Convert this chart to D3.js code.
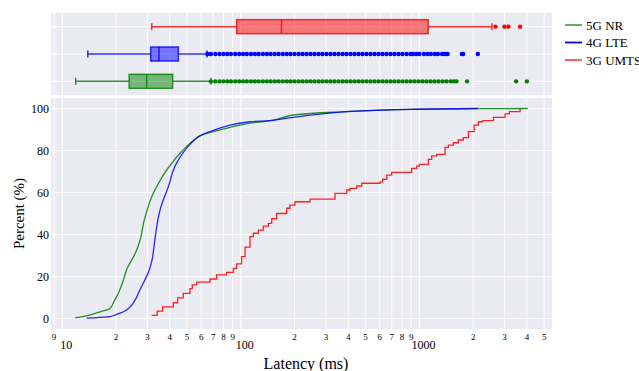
<!DOCTYPE html>
<html>
<head>
<meta charset="utf-8">
<script src="https://cdn.jsdelivr.net/npm/d3@7"></script>
<style>
  body { margin: 0; background: #fff; }
</style>
</head>
<body>
<div id="chart"></div>
<script>
// latency CDF per radio technology + box plots on top
const techs = ["5G NR", "4G LTE", "3G UMTS"];
const techColors = ["green", "blue", "red"];
const legendColors = ["#4caa4c", "#0000ff", "#ff4d4d"];

// box stats: [low whisker, q1, median, q3, high whisker] in ms
const box5G = [11.9, 23.7, 29.7, 41.5, 68.1];
const box4G = [13.9, 31.3, 34.8, 44.7, 64.7];
const box3G = [31.7, 94.8, 169, 1120, 2550];

const outliers5G = [68, 72, 76, 80, 84, 88, 93, 98, 103, 108, 114, 120, 126, 133, 140, 147, 155, 163, 172, 181,
  190, 200, 211, 222, 234, 246, 259, 273, 287, 302, 318, 335, 353, 372, 391, 412, 434, 457, 481, 506,
  533, 561, 591, 622, 655, 690, 726, 765, 805, 848, 893, 940, 990, 1042, 1097, 1155, 1216, 1280, 1350,
  1420, 1500, 1560, 1613, 1850, 3480, 4000];
const outliers4G = [65, 68, 72, 76, 80, 84, 88, 93, 98, 103, 108, 114, 120, 126, 133, 140, 147, 155, 163, 172,
  181, 190, 200, 211, 222, 234, 246, 259, 273, 287, 302, 318, 335, 353, 372, 391, 412, 434, 457, 481,
  506, 533, 561, 591, 622, 655, 690, 726, 765, 805, 849, 893, 920, 960, 1000, 1060, 1110, 1160, 1220,
  1270, 1340, 1390, 1440, 1730, 1760, 2125];
const outliers3G = [2667, 2993, 3156, 3665];

// CDF readings (latency ms, percent)
const cdf5GLatency = [11.8, 14, 16.3, 18.5, 19.7, 21.0, 22.0, 22.9, 24.5, 26.1, 27.6, 28.5, 29.9, 31.7, 33.8,
  36.8, 41.0, 45.6, 51.9, 56.6, 70.2, 87, 112.6, 145.8, 197, 392, 887, 2000, 4045];
const cdf5GPercent = [0.3, 1.5, 3.2, 4.8, 8.8, 13.6, 18.3, 23.1, 27.9, 32.6, 39, 45.3, 51.7, 58, 62.8,
  68.3, 73.9, 78.7, 83.4, 86.1, 89, 91, 93, 94.2, 96.9, 98.5, 99.6, 99.9, 100];

const cdf4GLatency = [13.7, 18.5, 20.2, 22.9, 24.5, 25.9, 27.2, 29.0, 30.7, 32.1, 33.0, 33.8, 34.9, 36.8,
  39.3, 41.9, 44.7, 48.7, 51.9, 56.6, 70.2, 87, 112.6, 145.8, 197, 392, 887, 2125];
const cdf4GPercent = [0.2, 0.9, 2, 4, 6.4, 9.6, 13.6, 18.3, 23.1, 29.4, 37.4, 43.7, 50.1, 56.4,
  62.8, 70.7, 75.5, 80.2, 82.9, 86, 89.6, 92.1, 93.7, 94.2, 95.8, 98.5, 99.6, 100];

const cdf3GLatency = [31.7, 34, 36.5, 41.9, 44.3, 47.6, 51.9, 53.5, 56.6, 67.2, 73.2, 83.3, 90.8, 94.8, 101,
  105.6, 112.6, 117.5, 125.3, 133.6, 142.6, 149, 158.9, 180.7, 188.6, 201, 244, 337, 392, 409, 446, 476,
  602, 623, 657, 700, 906, 966, 1000, 1122, 1172, 1250, 1392, 1454, 1550, 1652, 1762, 1883, 2025, 2140,
  2265, 2600, 3020, 3190, 3665];
const cdf3GPercent = [1.5, 3.5, 5.5, 7.5, 9.8, 12, 14.2, 16, 17.3, 18.8, 20.8, 22, 23.8, 26, 29.5,
  34, 39, 40.6, 42.1, 44, 45.3, 47.5, 50, 52.5, 54, 55.6, 56.8, 59.6, 61.2, 62, 63.1, 64.4,
  65.1, 66.3, 68.3, 69.6, 71.5, 72.6, 73.4, 75.8, 77.4, 78.2, 81.5, 82.6, 83.7, 85, 86.1, 89, 92.1, 93.7,
  94.2, 95.8, 97.4, 98.5, 100];

const yTicks = [0, 20, 40, 60, 80, 100];
const majorTicks = [10, 100, 1000];
const minorTicks = [9, 20, 30, 40, 50, 60, 70, 80, 90, 200, 300, 400, 500, 600, 700, 800, 900,
  2000, 3000, 4000, 5000];

const W = 639, H = 371;
const left = 51, right = 552;
const top1 = 13, bottom1 = 95;
const top2 = 98, bottom2 = 329;
const bg = "#eaeaf2";
const serif = '"Liberation Serif"';

const svg = d3.select("#chart").append("svg").attr("width", W).attr("height", H);

const x = d3.scaleLog().domain([8.65, 5530]).range([left, right]);
const y = d3.scaleLinear().domain([-5, 105]).range([bottom2, top2]);
const yRow = d3.scaleLinear().domain([0.5, 3.5]).range([bottom1, top1]);

const allTicks = majorTicks.concat(minorTicks);

// panel backgrounds + grids
[[top1, bottom1], [top2, bottom2]].forEach(([t, b]) => {
  svg.append("rect").attr("x", left).attr("y", t).attr("width", right - left).attr("height", b - t).attr("fill", bg);
  svg.append("g").selectAll("line").data(allTicks).enter().append("line")
    .attr("x1", d => x(d)).attr("x2", d => x(d)).attr("y1", t).attr("y2", b)
    .attr("stroke", "#fff").attr("stroke-width", d => majorTicks.includes(d) ? 1.2 : 0.9);
});

svg.append("g").selectAll("line").data(yTicks).enter().append("line")
  .attr("x1", left).attr("x2", right).attr("y1", d => y(d)).attr("y2", d => y(d))
  .attr("stroke", "#fff").attr("stroke-width", 1.2);
svg.append("g").selectAll("line").data([1, 2, 3]).enter().append("line")
  .attr("x1", left).attr("x2", right).attr("y1", d => yRow(d)).attr("y2", d => yRow(d))
  .attr("stroke", "#fff").attr("stroke-width", 1.2);

// box plots
const boxes = [box5G, box4G, box3G];
const outs = [outliers5G, outliers4G, outliers3G];
boxes.forEach((b, i) => {
  const g = svg.append("g");
  const cy = yRow(i + 1), c = techColors[i];
  g.append("line").attr("x1", x(b[0])).attr("x2", x(b[1])).attr("y1", cy).attr("y2", cy)
    .attr("stroke", c).attr("stroke-width", 1.5).attr("opacity", 0.8);
  g.append("line").attr("x1", x(b[3])).attr("x2", x(b[4])).attr("y1", cy).attr("y2", cy)
    .attr("stroke", c).attr("stroke-width", 1.5).attr("opacity", 0.8);
  [b[0], b[4]].forEach(v => g.append("line").attr("x1", x(v)).attr("x2", x(v))
    .attr("y1", cy - 3.5).attr("y2", cy + 3.5).attr("stroke", c).attr("stroke-width", 1.5).attr("opacity", 0.8));
  g.append("rect").attr("x", x(b[1])).attr("y", cy - 7).attr("width", x(b[3]) - x(b[1])).attr("height", 14)
    .attr("fill", c).attr("fill-opacity", 0.5).attr("stroke", c).attr("stroke-width", 1.5).attr("stroke-opacity", 0.8);
  g.append("line").attr("x1", x(b[2])).attr("x2", x(b[2])).attr("y1", cy - 7).attr("y2", cy + 7)
    .attr("stroke", c).attr("stroke-width", 1.5).attr("opacity", 0.8);
  g.selectAll("circle").data(outs[i]).enter().append("circle")
    .attr("cx", d => x(d)).attr("cy", cy).attr("r", 2.2).attr("fill", c);
});

// CDF curves
const cdfs = [
  d3.zip(cdf5GLatency, cdf5GPercent),
  d3.zip(cdf4GLatency, cdf4GPercent),
  d3.zip(cdf3GLatency, cdf3GPercent)
];
cdfs.forEach((pts, i) => {
  const line = d3.line().x(d => x(d[0])).y(d => y(d[1]))
    .curve(i === 2 ? d3.curveStepAfter : d3.curveMonotoneX);
  svg.append("path").datum(pts).attr("d", line).attr("fill", "none")
    .attr("stroke", techColors[i]).attr("stroke-width", 1.3).attr("opacity", 0.85);
});

// y axis labels
svg.append("g").selectAll("text").data(yTicks).enter().append("text")
  .attr("x", 49).attr("y", d => y(d) + 4.5).attr("text-anchor", "end")
  .attr("font-family", serif).attr("font-size", 12).text(d => d);

// x axis labels: small minor digits, larger decades placed lower
svg.append("g").selectAll("text").data(minorTicks).enter().append("text")
  .attr("x", d => x(d)).attr("y", 339.5).attr("text-anchor", "middle")
  .attr("font-family", serif).attr("font-size", 9).text(d => String(d)[0]);
svg.append("g").selectAll("text").data(majorTicks).enter().append("text")
  .attr("x", d => x(d) + 4).attr("y", 348.5).attr("text-anchor", "middle")
  .attr("font-family", serif).attr("font-size", 12).text(d => d);

// axis titles
svg.append("text").attr("x", 306).attr("y", 369).attr("text-anchor", "middle")
  .attr("font-family", serif).attr("font-size", 16).text("Latency (ms)");
svg.append("text").attr("transform", `translate(24,${(top2 + bottom2) / 2}) rotate(-90)`)
  .attr("text-anchor", "middle").attr("font-family", serif).attr("font-size", 15).text("Percent (%)");

// legend
const leg = svg.append("g").attr("transform", "translate(565,25)");
techs.forEach((t, i) => {
  leg.append("line").attr("x1", 0).attr("x2", 17).attr("y1", i * 17.5).attr("y2", i * 17.5)
    .attr("stroke", legendColors[i]).attr("stroke-width", 1.8);
  leg.append("text").attr("x", 21).attr("y", i * 17.5 + 4.5)
    .attr("font-family", serif).attr("font-size", 13).text(t);
});
</script>
</body>
</html>
